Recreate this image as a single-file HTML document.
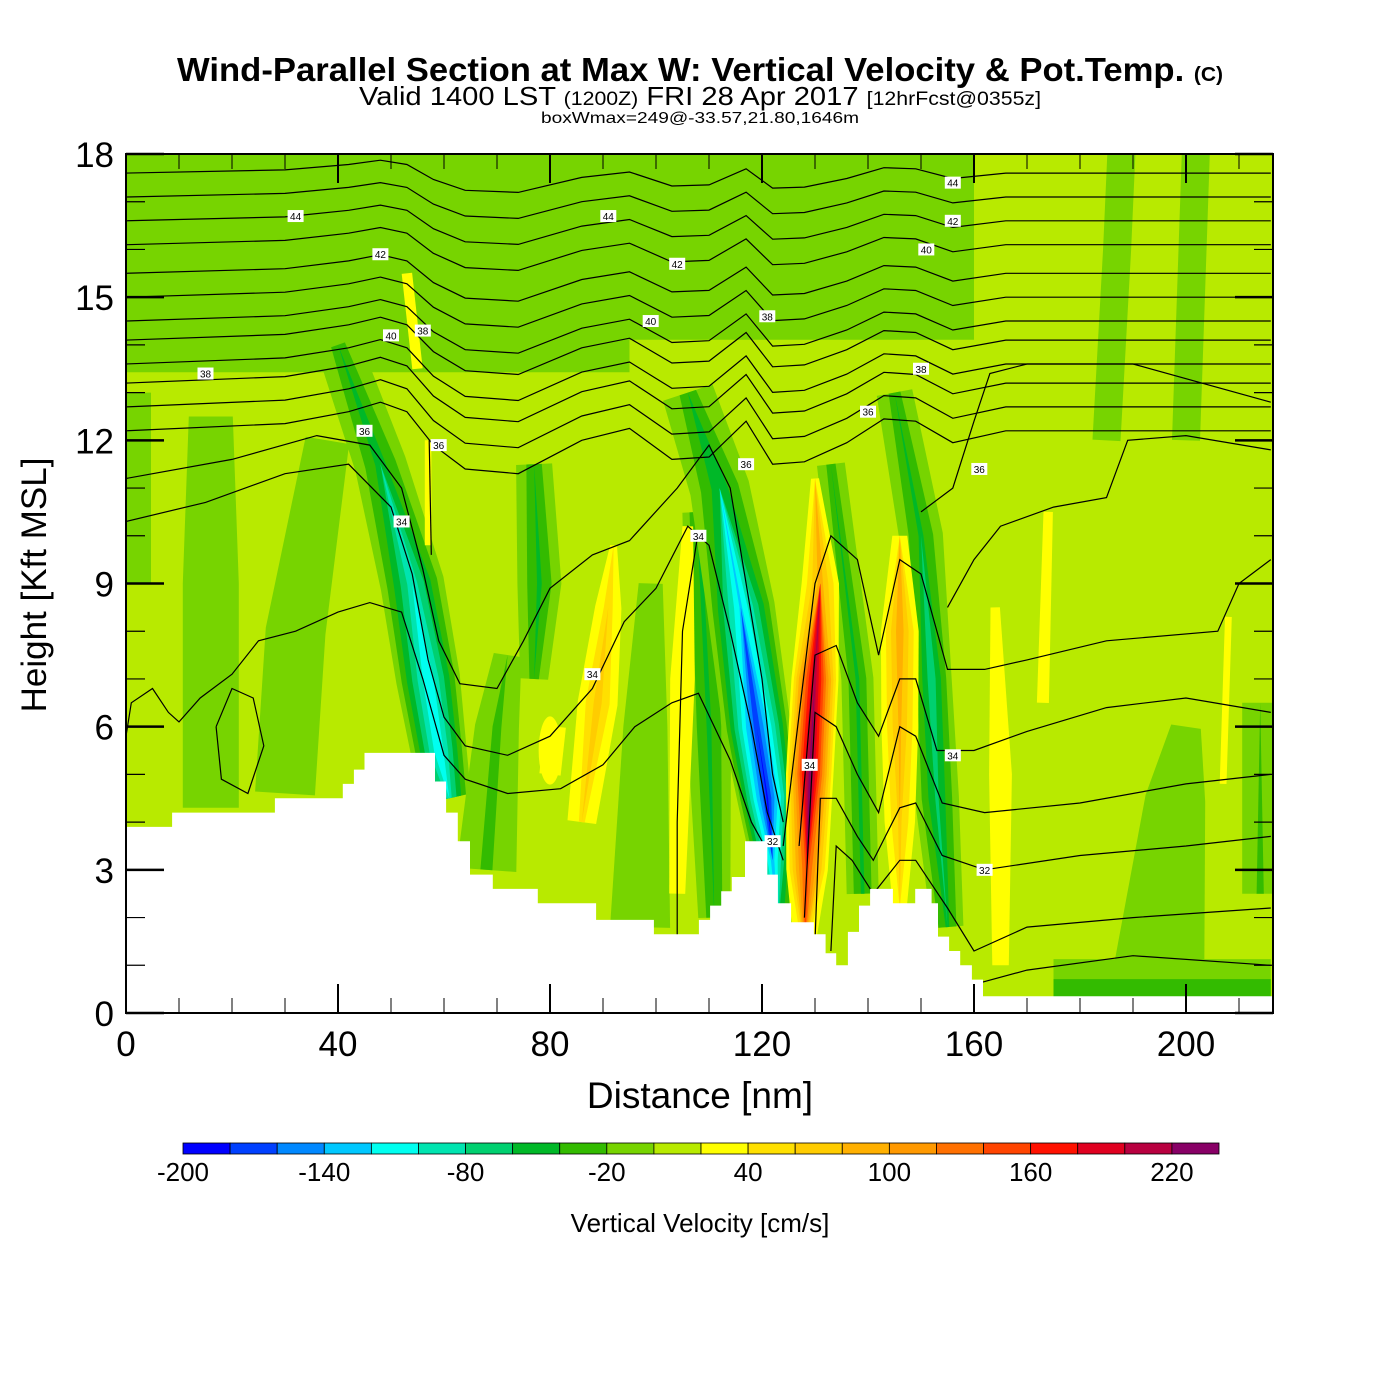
<!DOCTYPE html>
<html><head><meta charset="utf-8"><style>
body{margin:0;background:#fff}
svg{display:block;font-family:"Liberation Sans",sans-serif}
</style></head><body>
<svg id="chart" width="1400" height="1400" viewBox="0 0 1400 1400">
<g>
<text x="700" y="81" text-anchor="middle" font-size="33" font-weight="bold" textLength="1046" lengthAdjust="spacingAndGlyphs">Wind-Parallel Section at Max W: Vertical Velocity &amp; Pot.Temp. <tspan font-size="20">(C)</tspan></text>
<text x="700" y="105" text-anchor="middle" font-size="26" textLength="682" lengthAdjust="spacingAndGlyphs">Valid 1400 LST <tspan font-size="19">(1200Z)</tspan> FRI 28 Apr 2017 <tspan font-size="19">[12hrFcst@0355z]</tspan></text>
<text x="700" y="123" text-anchor="middle" font-size="16" textLength="318" lengthAdjust="spacingAndGlyphs">boxWmax=249@-33.57,21.80,1646m</text>
</g>
<defs><clipPath id="plotclip"><rect x="126" y="154" width="1147" height="859"/></clipPath></defs>
<g id="field" clip-path="url(#plotclip)"></g>
<g id="contours" clip-path="url(#plotclip)"></g>
<g id="terrain" clip-path="url(#plotclip)"></g>
<g id="labels"></g>
<rect x="126" y="154" width="1147" height="859" fill="none" stroke="#000" stroke-width="2"/>
<g id="axes"></g>
<text x="700" y="1108" text-anchor="middle" font-size="37">Distance [nm]</text>
<text transform="translate(46,585) rotate(-90)" text-anchor="middle" font-size="35">Height [Kft MSL]</text>
<g id="colorbar"></g>
<text x="700" y="1232" text-anchor="middle" font-size="26">Vertical Velocity [cm/s]</text>
</svg>
<script>
const levelColors=["#0000ff","#0040ff","#0088ff","#00c8ff","#00fff0","#00e4b0","#00d070","#00b828","#33bb00","#77d400","#b8ea00","#ffff00","#ffe000","#ffcc00","#ffb000","#ff9900","#ff7000","#ff4400","#ff1100","#e00020","#b80040","#880066"];
const levelTicks=[-200,-140,-80,-20,40,100,160,220];
const xTicks=[0,40,80,120,160,200];
const yTicks=[0,3,6,9,12,15,18];
// streaks: points [distance nm, height kft, peak cm/s, zero-crossing half-width px]
const streaks=[
 [[0,15.9,-15,118],[95,15.9,-15,118]],
 [[95,16.1,-15,95],[160,16.1,-15,95]],
 [[30,18.5,10,16],[36,15,10,16],[38,13.5,10,10]],
 [[88,18.5,10,22],[87,13,10,18]],
 [[117,18.5,10,12],[117,14.5,10,10]],
 [[140,18.5,10,15],[143,13,10,12]],
 [[57,13.8,10,20],[57,15.5,10,20]],
 [[53,15.5,32,14],[55,13.5,32,14]],
 [[0,9,-15,25],[0,13,-15,25]],
 [[16,4.3,-15,28],[16,9,-15,28],[16,12.5,-15,22]],
 [[30,4.6,-15,30],[32,8,-15,30],[38,12,-15,22]],
 [[68,3,-25,30],[70,6,-25,22],[72,7.5,-15,14]],
 [[97,1.8,-15,30],[98,6,-15,22],[99,9,-15,12]],
 [[175,0.5,-30,30],[216,0.5,-30,30]],
 [[195,1,-15,45],[198,4.5,-15,30],[200,6,-15,15]],
 [[214,2.5,-25,18],[214,6.5,-15,18]],
 [[185,12,-15,14],[187,16,-15,14],[188,18.5,-15,14]],
 [[200,12,-15,14],[202,18.5,-15,14]],
 [[77,11.5,-35,18],[78,9,-45,22],[77,7,-30,14]],
 [[40,14,-30,22],[48,11.5,-50,26],[54,9,-95,32],[57,7,-120,32],[59,5.5,-120,28],[61,4.5,-90,22]],
 [[108,10.5,-45,16],[110,6,-45,22],[111,2,-40,16]],
 [[106,13,-30,26],[112,11,-55,30],[116,8.5,-125,34],[119,6,-175,34],[121,4.5,-185,30],[122,3.2,-130,22],[123,1.8,-60,16]],
 [[133,11.5,-30,14],[138,7,-45,16],[139,2.5,-45,16]],
 [[145,13,-30,18],[150,10,-45,22],[152,7,-75,20],[153,4.5,-65,22],[155,1.8,-45,16]],
 [[80,5.5,38,24]],
 [[80,5,36,24],[81,6,36,24]],
 [[86,4,45,26],[89,6.5,70,28],[91,8.5,50,22],[92,9.8,28,12]],
 [[104,2.5,30,24],[105,7,38,26],[106,10.2,30,16]],
 [[130,11.2,25,20],[131,9,90,24],[130,7,210,26],[129,5,230,26],[128.5,3,150,24],[128,1.3,45,18]],
 [[146,10,32,20],[146,8,95,24],[146,6,85,24],[146,4,65,22],[146,2.2,35,16]],
 [[165,1,32,22],[165,5,38,24],[164,8.5,30,14]],
 [[173,6.5,30,18],[174,10.5,30,14]],
 [[207,4.8,28,12],[208,8.3,28,12]],
 [[57,9.8,30,10],[57,12,30,10]]
];
const terrainX=[0,8.7,28.1,40.9,43,45,58.3,60.4,62.6,64.9,69.2,77.7,88.7,99.6,108.1,110.2,112.3,114.3,116.8,121,123,125.5,129.8,132,134,136.2,138.3,140.4,144.7,148.9,152,153.2,155.3,157.4,159.6,161.7];
const terrainH=[3.9,4.2,4.5,4.8,5.1,5.45,4.85,4.2,3.6,2.9,2.6,2.3,1.95,1.65,1.95,2.25,2.55,2.85,3.6,2.9,2.3,1.9,1.65,1.25,1.0,1.7,2.25,2.6,2.3,2.6,2.3,1.6,1.3,1.0,0.7,0.35];
// upper isentrope family: base shape and left-edge heights
const upperShapeX=[0,30,42,48,53,58,64,74,86,95,103,110,117,122,128,136,143,149,156,166,216];
const upperShapeDH=[0,0.15,0.4,0.6,0.4,-0.3,-0.8,-0.9,-0.2,0.05,-0.6,-0.55,0.2,-0.7,-0.65,-0.25,0.25,0.2,-0.25,0,0];
const upperLeftH=[12.2,12.7,13.2,13.6,14.1,14.5,15.0,15.5,16.1,16.6,17.1,17.6];
const lowerLines=[
 [[0,10.3],[15,10.7],[30,11.3],[42,11.5],[50,10.6],[54,9.2],[57,7.4],[60,6.2],[64,5.6],[72,5.4],[80,5.8],[88,6.8],[94,8.2],[100,8.9],[106,10.2],[110,9.8],[114,8],[118,6],[121,4.2],[124,3.2]],
 [[0,11.2],[20,11.6],[36,12.1],[46,11.9],[52,11],[56,9.3],[59,7.8],[63,6.9],[70,6.8],[75,7.8],[80,8.9],[88,9.6],[95,9.9],[104,11],[110,11.9],[114,11],[117,9],[120,7],[122,5],[124,4]],
 [[0,5.8],[1,6.5],[5,6.8],[8,6.3],[10,6.1],[14,6.6],[20,7.1],[25,7.8],[32,8.0],[40,8.4],[46,8.6],[52,8.4],[56,7],[60,5.4],[64,4.9],[72,4.6],[82,4.7],[90,5.2],[96,6],[103,6.5],[108,6.7],[114,5.3],[118,4],[120,3.6]],
 [[17,6],[18,4.9],[23,4.6],[26,5.6],[24,6.6],[20,6.8],[17,6]],
 [[57.2,12],[57.6,9.6]],
 [[108,10.1],[105,8],[104,4],[104,1.6]],
 [[124,3.5],[130,9],[133,10],[138,9.5],[142,7.5],[146,9.5],[150,9.2],[155,7.2],[162,7.2],[170,7.4],[185,7.8],[206,8],[210,9],[216,9.5]],
 [[127,3.5],[130,7.5],[134,7.7],[138,6.5],[142,5.8],[146,7],[149,7],[153,5.5],[160,5.5],[170,5.9],[185,6.4],[200,6.6],[216,6.3]],
 [[128,2],[130,6.3],[134,6],[138,5],[142,4.2],[146,6],[149,5.8],[154,4.4],[162,4.2],[180,4.4],[200,4.8],[216,5]],
 [[130,1.5],[131,4.5],[134,4.5],[138,3.7],[141,3.2],[146,4.3],[149,4.4],[154,3.3],[162,3],[180,3.3],[200,3.5],[216,3.7]],
 [[133,1.3],[134,3.5],[137,3.2],[141,2.5],[146,3.2],[149,3.2],[155,2.2],[160,1.3],[170,1.8],[190,2],[216,2.2]],
 [[160,0.6],[170,0.9],[190,1.2],[216,1]],
 [[150,10.5],[156,11],[160,12.4],[163,13.4],[170,13.6],[190,13.6],[216,12.8]],
 [[155,8.5],[160,9.5],[165,10.2],[175,10.6],[185,10.8],[189,12],[200,12.1],[216,11.8]]
];
const contourLabels=[["44",32,16.7],["42",48,15.9],["40",50,14.2],["38",56,14.3],["38",15,13.4],["36",45,12.2],["36",59,11.9],["34",52,10.3],["44",91,16.7],["42",104,15.7],["40",99,14.5],["38",121,14.6],["44",156,17.4],["42",156,16.6],["40",151,16.0],["38",150,13.5],["36",140,12.6],["36",117,11.5],["34",108,10.0],["34",88,7.1],["34",129,5.2],["34",156,5.4],["32",122,3.6],["32",162,3.0],["36",161,11.4]];
const NS="http://www.w3.org/2000/svg";
const X=d=>126+d*5.3, Y=h=>1013-h*47.722;
const colorFor=v=>{let i=Math.floor((v+200)/20);return levelColors[Math.max(0,Math.min(21,i))];};
function mk(tag,attrs,parent){const e=document.createElementNS(NS,tag);for(const k in attrs)e.setAttribute(k,attrs[k]);parent.appendChild(e);return e;}
const field=document.getElementById('field');
const bg=mk('rect',{x:126,y:154,width:1147,height:859,fill:levelColors[10]},field);


streaks.forEach((s,si)=>{
  const pts=s.map(p=>[X(p[0]),Y(p[1]),p[2],p[3]]);
  const maxP=Math.max(...s.map(p=>Math.abs(p[2])));
  const sign=s[0][2]<0?-1:1;
  const thresholds=[];
  if(sign<0){for(let L=0;L>-maxP;L-=20)thresholds.push(L);}
  else{for(let L=20;L<maxP;L+=20)thresholds.push(L);}
  thresholds.forEach(L=>{
    const left=[],right=[];
    pts.forEach((p,i)=>{
      let dx,dy;
      if(pts.length===1){dx=0;dy=-1;}
      else{const a=pts[Math.max(0,i-1)],b=pts[Math.min(pts.length-1,i+1)];dx=b[0]-a[0];dy=b[1]-a[1];}
      const n=Math.hypot(dx,dy)||1;const nx=-dy/n,ny=dx/n;
      const w=p[3]*Math.max(0,1-L/p[2]);
      left.push([p[0]+nx*w,p[1]+ny*w]);right.push([p[0]-nx*w,p[1]-ny*w]);
    });
    if(pts.length===1){const w=Math.abs(left[0][0]-right[0][0])/2;
      const e=mk('ellipse',{cx:pts[0][0],cy:pts[0][1],rx:w,ry:w*3,fill:sign<0?colorFor(L-1):colorFor(L+1)},field);
      
      return;}
    const all=left.concat(right.reverse());
    const poly=mk('polygon',{points:all.map(q=>q[0].toFixed(1)+','+q[1].toFixed(1)).join(' '),fill:sign<0?colorFor(L-1):colorFor(L+1),'stroke-linejoin':'round'},field);
    
    
  });
});
const cg=document.getElementById('contours');
function line(pts){const p=mk('polyline',{points:pts.map(q=>X(q[0]).toFixed(1)+','+Y(q[1]).toFixed(1)).join(' '),fill:'none',stroke:'#000','stroke-width':1.2},cg);
 
 }
upperLeftH.forEach((h,k)=>{const amp=1-k*0.05;line(upperShapeX.map((x,i)=>[x,h+upperShapeDH[i]*amp]));});
lowerLines.forEach(l=>line(l));
const tg=document.getElementById('terrain');
let tp=[];terrainX.forEach((x,i)=>{const xn=i<terrainX.length-1?terrainX[i+1]:216.5;tp.push([X(x),Y(terrainH[i])],[X(xn),Y(terrainH[i])]);});
tp.push([1273,1013],[126,1013]);
const terr=mk('polygon',{points:tp.map(q=>q[0].toFixed(1)+','+q[1].toFixed(1)).join(' '),fill:'#fff'},tg);


const lg=document.getElementById('labels');
contourLabels.forEach(c=>{const x=X(c[1]),y=Y(c[2]);
 const r=mk('rect',{x:x-8,y:y-6,width:16,height:12,fill:'#fff'},lg);
 
 
 const t=mk('text',{x:x,y:y+4,'text-anchor':'middle','font-size':10},lg);t.textContent=c[0];
 
 });
const ag=document.getElementById('axes');
for(let d=0;d<=210;d+=10){const maj=d%40===0;const len=maj?29:15;
 const a=mk('line',{x1:X(d),x2:X(d),y1:1013,y2:1013-len,stroke:'#000','stroke-width':maj?2:1},ag);
 
 const b=mk('line',{x1:X(d),x2:X(d),y1:154,y2:154+len,stroke:'#000','stroke-width':maj?2:1},ag);
 }
for(let h=0;h<=18;h++){const maj=h%3===0;const len=maj?38:19;
 const a=mk('line',{x1:126,x2:126+len,y1:Y(h),y2:Y(h),stroke:'#000','stroke-width':maj?2.5:1.2},ag);
 
 const b=mk('line',{x1:1273,x2:1273-len,y1:Y(h),y2:Y(h),stroke:'#000','stroke-width':maj?2.5:1.2},ag);
 }
xTicks.forEach(v=>{const t=mk('text',{x:X(v),y:1056,'text-anchor':'middle','font-size':35},ag);t.textContent=v;
 });
yTicks.forEach(v=>{const t=mk('text',{x:114,y:Y(v)+13,'text-anchor':'end','font-size':35},ag);t.textContent=v;
 });
const cb=document.getElementById('colorbar');
const cbX=v=>183+(v+200)*(1036/440);
levelColors.forEach((c,i)=>{const v=-200+i*20;
 const r=mk('rect',{x:cbX(v),y:1143,width:1036/22,height:11,fill:c,stroke:'#000','stroke-width':0.8},cb);
 });
levelTicks.forEach(v=>{const t=mk('text',{x:cbX(v),y:1181,'text-anchor':'middle','font-size':26},cb);t.textContent=v;
 });
</script>
</body></html>
